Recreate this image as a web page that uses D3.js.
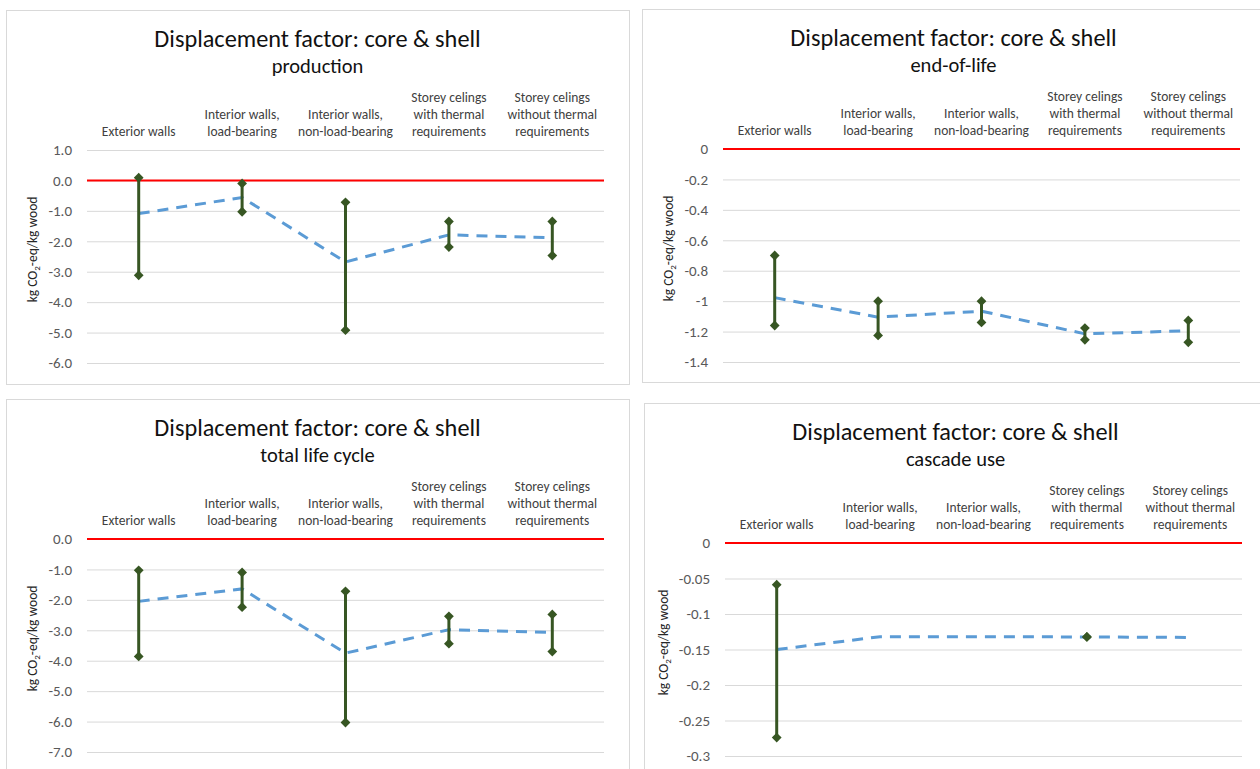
<!DOCTYPE html>
<html>
<head>
<meta charset="utf-8">
<script src="https://cdn.jsdelivr.net/npm/d3@7"></script>
<style>
  body { margin: 0; background: #fff; }
  text { font-family: Carlito, Lato, sans-serif; }
</style>
</head>
<body>
<svg id="chart" width="1260" height="769"></svg>
<script>
// categories, one array of lines per label
const categories = [
  ["Exterior walls"],
  ["Interior walls,", "load-bearing"],
  ["Interior walls,", "non-load-bearing"],
  ["Storey celings", "with thermal", "requirements"],
  ["Storey celings", "without thermal", "requirements"]
];

const mainTitle = "Displacement factor: core & shell";

// production
const productionHigh = [0.09, -0.10, -0.72, -1.35, -1.35];
const productionLow = [-3.12, -1.03, -4.92, -2.19, -2.47];
const productionMean = [-1.09, -0.56, -2.68, -1.79, -1.88];
const productionTicks = [1, 0, -1, -2, -3, -4, -5, -6];

// end-of-life
const endOfLifeHigh = [-0.70, -1.00, -1.00, -1.177, -1.127];
const endOfLifeLow = [-1.16, -1.225, -1.14, -1.254, -1.271];
const endOfLifeMean = [-0.977, -1.105, -1.066, -1.215, -1.195];
const endOfLifeTicks = [0, -0.2, -0.4, -0.6, -0.8, -1, -1.2, -1.4];

// total life cycle
const totalHigh = [-1.03, -1.10, -1.72, -2.54, -2.48];
const totalLow = [-3.86, -2.24, -6.03, -3.44, -3.70];
const totalMean = [-2.05, -1.64, -3.75, -2.98, -3.07];
const totalTicks = [0, -1, -2, -3, -4, -5, -6, -7];

// cascade use (no range shown for the interior walls)
const cascadeHigh = [-0.0587, null, null, -0.1323, null];
const cascadeLow = [-0.274, null, null, -0.1323, null];
const cascadeMean = [-0.150, -0.132, -0.132, -0.1323, -0.133];
const cascadeTicks = [0, -0.05, -0.1, -0.15, -0.2, -0.25, -0.3];

const fixed1 = d => d.toFixed(1);
const general = d => String(+d.toFixed(2));

const panels = [
  { left: 6, top: 10, h: 374, subtitle: "production", high: productionHigh, low: productionLow, mean: productionMean, ticks: productionTicks, fmt: fixed1 },
  { left: 642, top: 9, h: 373, subtitle: "end-of-life", high: endOfLifeHigh, low: endOfLifeLow, mean: endOfLifeMean, ticks: endOfLifeTicks, fmt: general },
  { left: 6, top: 399, h: 380, subtitle: "total life cycle", high: totalHigh, low: totalLow, mean: totalMean, ticks: totalTicks, fmt: fixed1 },
  { left: 644, top: 403, h: 380, subtitle: "cascade use", high: cascadeHigh, low: cascadeLow, mean: cascadeMean, ticks: cascadeTicks, fmt: general }
];

const svg = d3.select("#chart");
const frameW = 623;
const plotL = 81, plotW = 517, plotT = 140, plotH = 213;

panels.forEach(p => {
  const g = svg.append("g").attr("transform", `translate(${p.left},${p.top})`);

  g.append("rect")
    .attr("x", 0.5).attr("y", 0.5)
    .attr("width", frameW).attr("height", p.h)
    .attr("fill", "#fff").attr("stroke", "#d9d9d9");

  g.append("text")
    .attr("x", frameW / 2).attr("y", 37)
    .attr("text-anchor", "middle")
    .attr("font-size", 24.3).attr("fill", "#111")
    .text(mainTitle);

  g.append("text")
    .attr("x", frameW / 2).attr("y", 63)
    .attr("text-anchor", "middle")
    .attr("font-size", 20.5).attr("fill", "#111")
    .text(p.subtitle);

  const x = d3.scaleBand()
    .domain(d3.range(categories.length))
    .range([plotL, plotL + plotW]);

  const y = d3.scaleLinear()
    .domain(d3.extent(p.ticks))
    .range([plotT + plotH, plotT]);

  const cx = i => x(i) + x.bandwidth() / 2;

  // category labels above the plot, bottom aligned
  categories.forEach((lines, i) => {
    const t = g.append("text")
      .attr("text-anchor", "middle")
      .attr("font-size", 13.5).attr("fill", "#404040");
    lines.forEach((ln, j) => {
      t.append("tspan")
        .attr("x", cx(i))
        .attr("y", 126 - (lines.length - 1 - j) * 17)
        .text(ln);
    });
  });

  const axis = g.append("g")
    .attr("transform", `translate(${plotL},0)`)
    .call(d3.axisLeft(y)
      .tickValues(p.ticks)
      .tickSize(-plotW)
      .tickPadding(15)
      .tickFormat(p.fmt));
  axis.select(".domain").remove();
  axis.selectAll(".tick line").attr("stroke", "#d9d9d9");
  axis.selectAll(".tick text")
    .attr("font-size", 15).attr("fill", "#595959")
    .style("font-family", "Carlito, Lato, sans-serif");

  // y axis title left of the widest tick label
  const tickLeft = d3.min(axis.selectAll(".tick text").nodes(), n => n.getBBox().x) + plotL;
  const ty = g.append("text")
    .attr("transform", `translate(${tickLeft - 11},${plotT + plotH / 2 - 7}) rotate(-90)`)
    .attr("text-anchor", "middle")
    .attr("font-size", 13.5).attr("fill", "#262626");
  ty.append("tspan").text("kg CO");
  ty.append("tspan").attr("font-size", 9).attr("dy", 3).text("2");
  ty.append("tspan").attr("dy", -3).text("-eq/kg wood");

  g.append("line")
    .attr("x1", plotL).attr("x2", plotL + plotW)
    .attr("y1", y(0)).attr("y2", y(0))
    .attr("stroke", "#ff0000").attr("stroke-width", 2);

  const line = d3.line()
    .defined(d => d != null)
    .x((d, i) => cx(i))
    .y(d => y(d));

  g.append("path")
    .datum(p.mean)
    .attr("d", line)
    .attr("fill", "none")
    .attr("stroke", "#5b9bd5")
    .attr("stroke-width", 3)
    .attr("stroke-dasharray", "11,8");

  const ranges = p.high.map((h, i) => ({ i, h, l: p.low[i] })).filter(d => d.h != null);

  g.selectAll(".bar")
    .data(ranges.filter(d => d.h !== d.l))
    .enter().append("line")
    .attr("class", "bar")
    .attr("x1", d => cx(d.i)).attr("x2", d => cx(d.i))
    .attr("y1", d => y(d.h)).attr("y2", d => y(d.l))
    .attr("stroke", "#375623").attr("stroke-width", 3);

  const diamond = d3.symbol(d3.symbolSquare, 48);
  const marks = ranges.flatMap(d => [{ i: d.i, v: d.h }, { i: d.i, v: d.l }]);
  g.selectAll(".mark")
    .data(marks)
    .enter().append("path")
    .attr("class", "mark")
    .attr("d", diamond)
    .attr("transform", d => `translate(${cx(d.i)},${y(d.v)}) rotate(45)`)
    .attr("fill", "#375623");
});
</script>
</body>
</html>
